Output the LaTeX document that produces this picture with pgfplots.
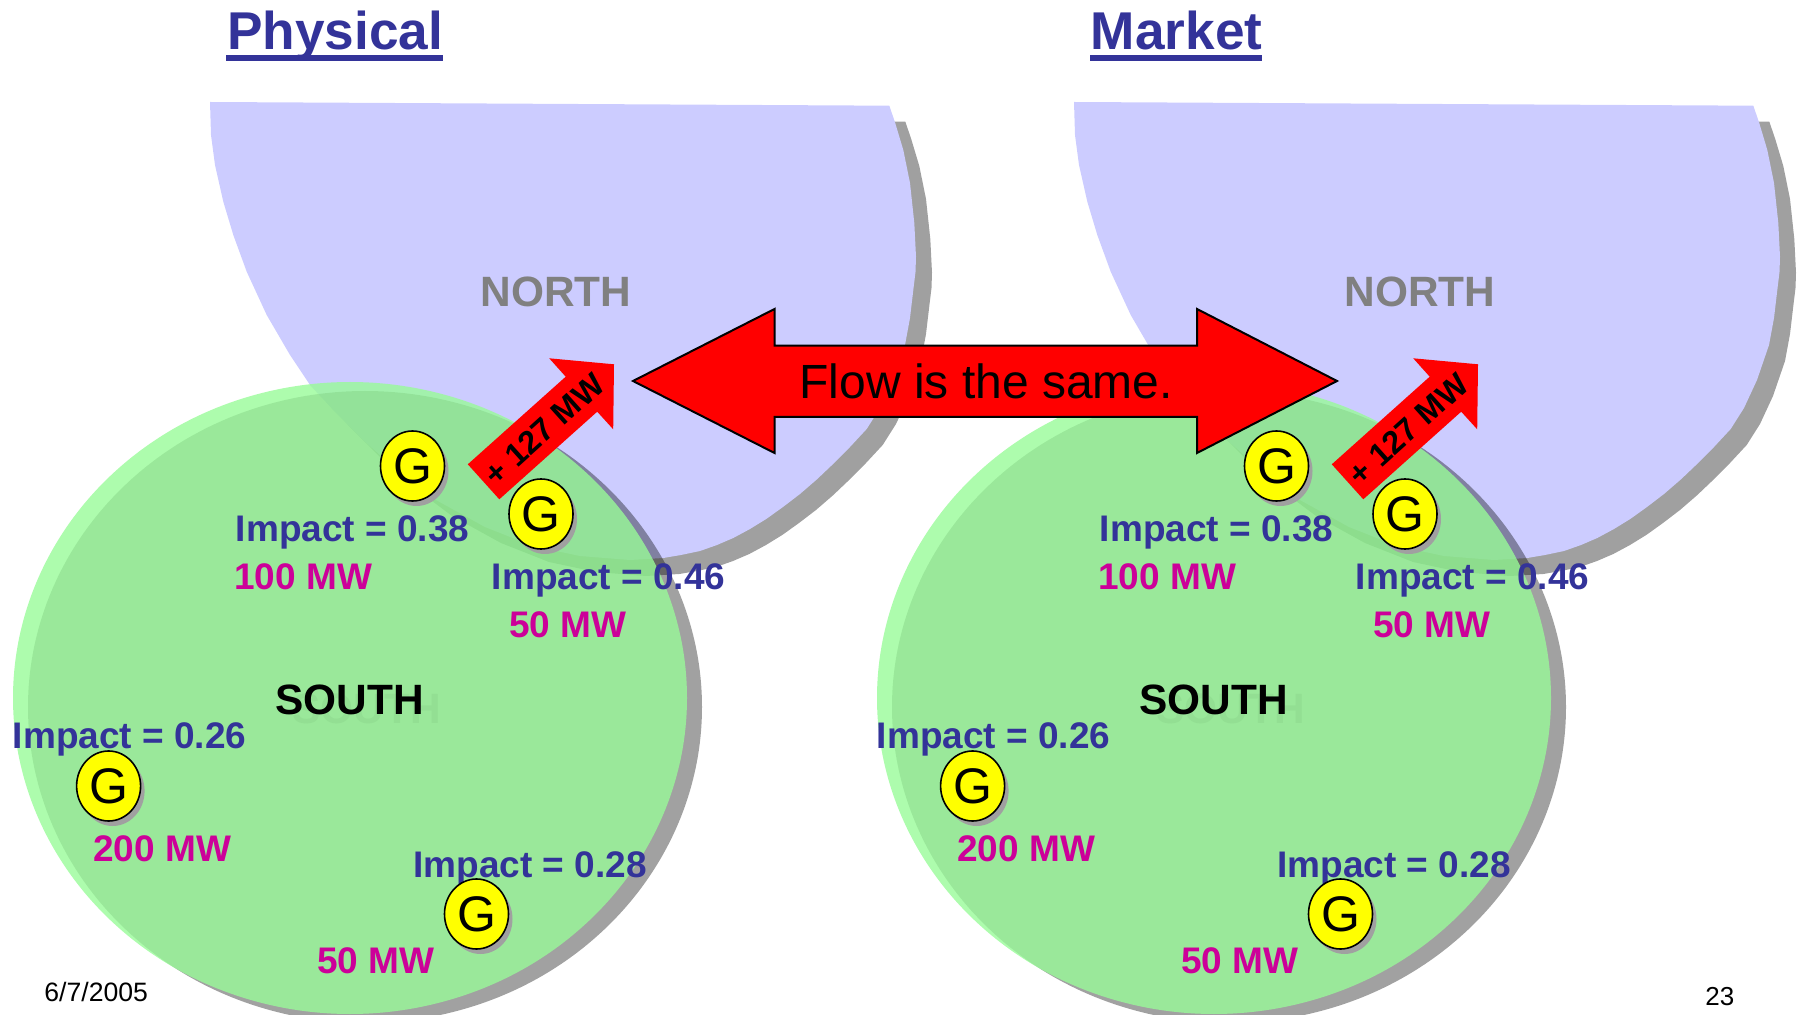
\documentclass[border=0pt]{standalone}
\usepackage{fontspec}
\setmainfont{Liberation Sans}
\usepackage{pgfplots}
\usepackage{pgfplotstable}
\pgfplotsset{compat=1.18}

\definecolor{TitleBlue}{RGB}{51,51,153}
\definecolor{MwPink}{RGB}{204,0,153}
\definecolor{NorthFill}{RGB}{204,204,255}
\definecolor{SouthFill}{RGB}{152,251,152}
\definecolor{ShadowGray}{RGB}{160,160,160}
\definecolor{NameGray}{RGB}{128,128,128}
\definecolor{GhostGreen}{RGB}{147,223,147}
\definecolor{GenYellow}{RGB}{255,255,0}

% all positions in reference pixels, 1 px = 0.5 pt
\pgfplotstableread{
x y
350 382
437.2 392.8
518.5 424.3
588.3 474.6
641.8 540
675.5 616.2
687 698
675.5 779.8
641.8 856
588.3 921.4
518.5 971.7
437.2 1003.2
350 1014
262.8 1003.2
181.5 971.7
111.7 921.4
58.2 856
24.5 779.8
13 698
24.5 616.2
58.2 540
111.7 474.6
181.5 424.3
262.8 392.8
}\southdata

\pgfplotstableread{
x y
210 102
889.3 105.7
895 122.3
903.3 150
910 183
914.3 223
916 256.7
915.5 272
913.3 290
910 318
905 345
893 380
880 408
866.7 429
850 447
833.3 463.8
817 479.3
800 494
783 507
766.7 518.7
750 529
733.3 538
717 545
700 551
681 555
663.3 558
630 560
580 556
533 546
485 527
436 500
400 473
363 440
335 412
310 385
290 355
266.7 315
246.7 271.7
233.3 235
223.3 201.7
215 165
211 135
}\northdata

\pgfplotstableread{
x y
467.8 464.3
499.3 499.3
597.2 411.7
613.2 429.3
614 364.3
549.2 358.3
565.7 376.7
}\smallarrow

\pgfplotstableread{
x y
633 381
774.5 309
774.5 345.7
1197 345.7
1197 309
1337 381
1197 453
1197 417
774.5 417
774.5 453
}\bigarrow

\pgfplotstableread{
x y
412.5 466
541 514
108.6 786
476.5 914
}\gens

\pgfdeclareplotmark{genshadow}{\pgfpathellipse{\pgfpointorigin}{\pgfqpoint{16pt}{0pt}}{\pgfqpoint{0pt}{17.5pt}}\pgfusepathqfill}
\pgfdeclareplotmark{gen}{\pgfpathellipse{\pgfpointorigin}{\pgfqpoint{16pt}{0pt}}{\pgfqpoint{0pt}{17.5pt}}\pgfusepathqfillstroke\pgftext{\color{black}\fontsize{25}{27}\selectfont G}}

\newcommand{\lbl}[4]{\node[anchor=base west,inner sep=0pt,text=#3] at (axis cs:#1,#2) {\fontsize{18.5}{20}\selectfont\bfseries #4};}

\begin{document}
\begin{tikzpicture}
\useasboundingbox (0,0) rectangle (899.5pt,507.5pt);
\begin{axis}[
    scale only axis,
    width=899.5pt, height=507.5pt,
    xmin=0, xmax=1799, ymin=0, ymax=1015,
    y dir=reverse,
    hide axis,
    clip mode=global,
  ]
  \pgfplotsinvokeforeach{0,864}{
    % north area
    \addplot[draw=none,fill=ShadowGray] table[x expr=\thisrow{x}+16+#1,y expr=\thisrow{y}+16] {\northdata} --cycle;
    \addplot[draw=none,fill=NorthFill] table[x expr=\thisrow{x}+#1,y=y] {\northdata} --cycle;
    % south area
    \addplot[smooth cycle,tension=0.61,draw=none,fill=black,fill opacity=0.37] table[x expr=\thisrow{x}+15+#1,y expr=\thisrow{y}+9] {\southdata};
    \addplot[smooth cycle,tension=0.61,draw=none,fill=SouthFill,fill opacity=0.8] table[x expr=\thisrow{x}+#1,y=y] {\southdata};
    % +127 arrow
    \addplot[draw=none,fill=red] table[x expr=\thisrow{x}+#1,y=y] {\smallarrow} --cycle;
    \node[rotate=42,inner sep=0pt] at (axis cs:544+#1,429) {\fontsize{16.2}{18}\selectfont\bfseries + 127 MW};
    % labels
    \node[anchor=base west,inner sep=0pt,text=NameGray] at (axis cs:480+#1,307) {\fontsize{21.2}{23}\selectfont\bfseries NORTH};
    \node[anchor=base west,inner sep=0pt,text=GhostGreen] at (axis cs:292+#1,723) {\fontsize{21.2}{23}\selectfont\bfseries SOUTH};
    \node[anchor=base west,inner sep=0pt] at (axis cs:275+#1,714) {\fontsize{21.2}{23}\selectfont\bfseries SOUTH};
    \lbl{235.5+#1}{542}{TitleBlue}{Impact = 0.38}
    \lbl{234+#1}{590}{MwPink}{100 MW}
    \lbl{491.5+#1}{590}{TitleBlue}{Impact = 0.46}
    \lbl{509+#1}{638}{MwPink}{50 MW}
    \lbl{12.5+#1}{748}{TitleBlue}{Impact = 0.26}
    \lbl{93+#1}{861}{MwPink}{200 MW}
    \lbl{413+#1}{877}{TitleBlue}{Impact = 0.28}
    \lbl{317+#1}{973}{MwPink}{50 MW}
    % generators
    \addplot[only marks,mark=genshadow,mark options={draw=none,fill=ShadowGray}] table[x expr=\thisrow{x}+4+#1,y expr=\thisrow{y}+5] {\gens};
    \addplot[only marks,mark=gen,mark options={draw=black,fill=GenYellow,line width=0.8pt}] table[x expr=\thisrow{x}+#1,y=y] {\gens};
  }
  \addplot[draw=black,line width=1pt,fill=red] table {\bigarrow} --cycle;
  \node[anchor=base west,inner sep=0pt] at (axis cs:799,399) {\fontsize{24}{26}\selectfont Flow is the same.};
  \addplot[TitleBlue,line width=3pt] coordinates {(226,58) (443,58)};
  \addplot[TitleBlue,line width=3pt] coordinates {(1090,58) (1262,58)};
  \node[anchor=base west,inner sep=0pt,text=TitleBlue] at (axis cs:227,50) {\fontsize{26.6}{29}\selectfont\bfseries Physical};
  \node[anchor=base west,inner sep=0pt,text=TitleBlue] at (axis cs:1090.5,50) {\fontsize{26.6}{29}\selectfont\bfseries Market};
  \node[anchor=base west,inner sep=0pt] at (axis cs:44,1001) {\fontsize{13.3}{15}\selectfont 6/7/2005};
  \node[anchor=base west,inner sep=0pt] at (axis cs:1705,1005) {\fontsize{13}{15}\selectfont 23};
\end{axis}
\end{tikzpicture}
\end{document}
